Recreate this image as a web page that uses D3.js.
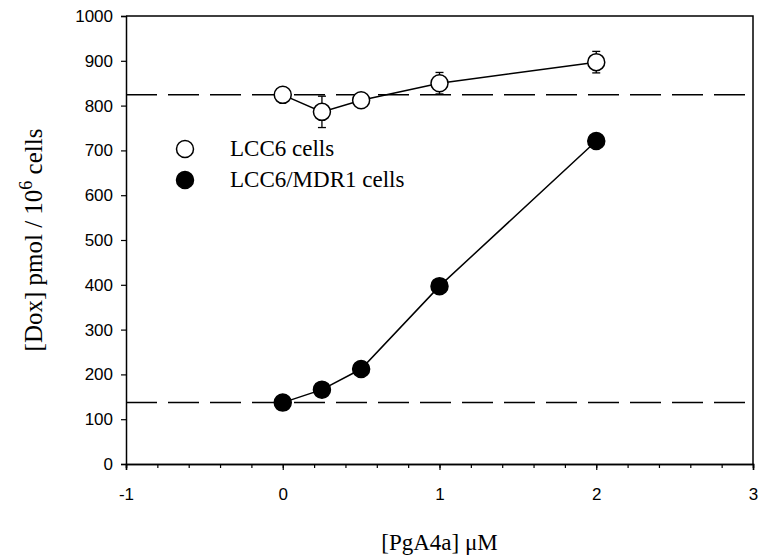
<!DOCTYPE html>
<html lang="en">
<head>
<meta charset="utf-8" />
<title>Dox uptake vs PgA4a</title>
<style>
	body { margin: 0; padding: 0; background: #fff; }
	svg text { fill: #000; }
	.tick text { font-family: Arial, 'Liberation Sans', sans-serif; font-size: 17px; }
	.serif { font-family: 'Times New Roman', 'Liberation Serif', serif; }
</style>
<script src="https://d3js.org/d3.v7.min.js"></script>
</head>
<body>
<div id="chart"></div>
<script>
// data
const conc = [0, 0.25, 0.5, 1, 2];
const lcc6 = [824, 786, 812, 850, 897];
const lcc6Err = [8, 35, 10, 24, 24];
const mdr1 = [137, 166, 212, 397, 721];
const mdr1Err = [5, 6, 6, 8, 8];
const refLines = [824, 137];
const xTicks = [-1, 0, 1, 2, 3];
const yTicks = [0, 100, 200, 300, 400, 500, 600, 700, 800, 900, 1000];
const legendNames = ["LCC6 cells", "LCC6/MDR1 cells"];

const W = 759, H = 556;
const svg = d3.select("#chart").append("svg")
	.attr("width", W).attr("height", H);

const x = d3.scaleLinear().domain([-1, 3]).range([126, 753]);
const y = d3.scaleLinear().domain([0, 1000]).range([464, 16]);

// frame (top + right)
svg.append("path")
	.attr("d", `M${x(-1)},${y(1000)}H${x(3)}V${y(0)}`)
	.attr("fill", "none").attr("stroke", "#000").attr("stroke-width", 1.5);

// x axis: minor ticks every 0.2, labels on integers
const minor = d3.range(-1, 3.001, 0.2).map(v => +v.toFixed(1));
const gx = svg.append("g").attr("transform", `translate(0,${y(0)})`);
gx.call(d3.axisBottom(x).tickValues(minor).tickSize(4).tickFormat(""));
gx.append("g").call(d3.axisBottom(x).tickValues(xTicks).tickSize(6).tickPadding(18).tickFormat(d => String(d)));
gx.selectAll(".domain").attr("stroke-width", 1.5);

const gy = svg.append("g").attr("transform", `translate(${x(-1)},0)`);
gy.call(d3.axisLeft(y).tickValues(yTicks).tickSize(5).tickPadding(8).tickFormat(d => String(d)));
gy.select(".domain").attr("stroke-width", 1.5);

svg.selectAll(".tick line").attr("stroke-width", 1.2);

// dashed reference lines
svg.selectAll(".ref").data(refLines).enter().append("line")
	.attr("x1", x(-1)).attr("x2", x(3))
	.attr("y1", d => y(d)).attr("y2", d => y(d))
	.attr("stroke", "#000").attr("stroke-width", 1.5)
	.attr("stroke-dasharray", "31,11");

const line = d3.line().x(d => x(d[0])).y(d => y(d[1]));

function series(vals, errs, fill) {
	const pts = conc.map((c, i) => [c, vals[i], errs[i]]);
	svg.append("path").datum(pts).attr("d", line)
		.attr("fill", "none").attr("stroke", "#000").attr("stroke-width", 1.5);
	const eb = svg.append("g").attr("stroke", "#000").attr("stroke-width", 1.3);
	pts.forEach(p => {
		const cx = x(p[0]);
		eb.append("line").attr("x1", cx).attr("x2", cx)
			.attr("y1", y(p[1] - p[2])).attr("y2", y(p[1] + p[2]));
		[p[1] - p[2], p[1] + p[2]].forEach(v => {
			eb.append("line").attr("x1", cx - 4).attr("x2", cx + 4)
				.attr("y1", y(v)).attr("y2", y(v));
		});
	});
	svg.append("g").selectAll("circle").data(pts).enter().append("circle")
		.attr("cx", d => x(d[0])).attr("cy", d => y(d[1])).attr("r", 8.5)
		.attr("fill", fill).attr("stroke", "#000").attr("stroke-width", 1.5);
}
series(lcc6, lcc6Err, "#fff");
series(mdr1, mdr1Err, "#000");

// legend
const lg = svg.append("g");
legendNames.forEach((name, i) => {
	const ly = 149 + i * 31;
	lg.append("circle").attr("cx", 185).attr("cy", ly).attr("r", 8.5)
		.attr("fill", i === 0 ? "#fff" : "#000").attr("stroke", "#000").attr("stroke-width", 1.5);
	lg.append("text").attr("class", "serif").attr("x", 230).attr("y", ly + 7)
		.attr("font-size", 23).text(name);
});

// axis titles
svg.append("text").attr("class", "serif")
	.attr("x", (x(-1) + x(3)) / 2).attr("y", 550)
	.attr("text-anchor", "middle").attr("font-size", 23)
	.text("[PgA4a] \u03bcM");

const yt = svg.append("text").attr("class", "serif")
	.attr("transform", `translate(42,${(y(0) + y(1000)) / 2}) rotate(-90)`)
	.attr("text-anchor", "middle").attr("font-size", 25);
yt.append("tspan").text("[Dox] pmol / 10");
yt.append("tspan").attr("dy", -10).attr("font-size", 18).text("6");
yt.append("tspan").attr("dy", 10).text(" cells");
</script>
</body>
</html>
